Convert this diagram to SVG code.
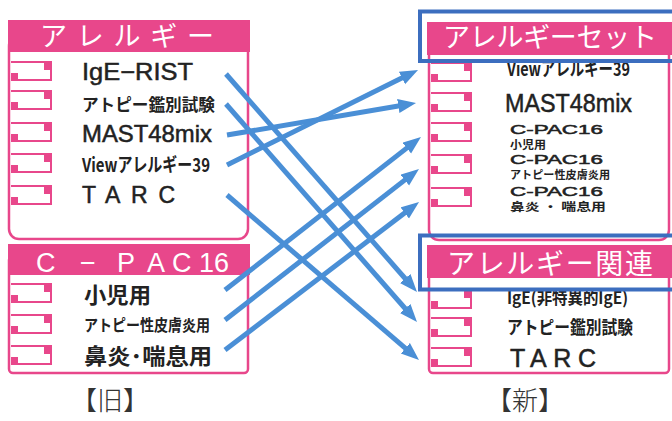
<svg xmlns="http://www.w3.org/2000/svg" width="672" height="421" viewBox="0 0 672 421">
<style>
.pk{fill:#e8478b}
.frame{fill:#fff;stroke:#e8478b;stroke-width:2.5}
.hd{fill:#fff;font-family:"Noto Sans CJK JP","Noto Sans",sans-serif;font-weight:400}
.hdl{fill:#fff;font-family:"Liberation Sans",Arial,sans-serif}
.jp{fill:#222;font-family:"Noto Sans CJK JP",sans-serif;font-weight:700}
.en{fill:#222;font-family:"Liberation Sans",Arial,sans-serif;stroke:#222;stroke-width:0.5}
.cap{fill:#333;font-family:"Noto Sans CJK JP",sans-serif;font-weight:300}
.ic line{stroke:#e8478b;stroke-width:2}
.ic rect{fill:#e8478b}
.bx{fill:none;stroke:#3c6ebf;stroke-width:4}
.ar{stroke:#4a8fd6;stroke-width:5;fill:none}
</style>
<defs>
<g id="icon" class="ic">
<line x1="0" y1="0" x2="41" y2="0"/>
<line x1="40" y1="0" x2="40" y2="18"/>
<line x1="0" y1="18" x2="41" y2="18"/>
<rect x="33" y="0" width="8" height="8"/>
<rect x="0" y="11" width="7" height="8"/>
</g>
<marker id="ah" markerUnits="userSpaceOnUse" markerWidth="20" markerHeight="16" refX="6" refY="7" orient="auto">
<path d="M0,0 L18,7 L0,14 z" fill="#4a8fd6"/>
</marker>
</defs>
<rect width="672" height="421" fill="#fff"/>

<g id="old-allergy">
<rect class="frame" x="9" y="36" width="239" height="203" rx="10"/>
<rect class="pk" x="8" y="20" width="242" height="32"/>
<text class="hd" x="40" y="46" font-size="27" textLength="174" lengthAdjust="spacing">アレルギー</text>
<use href="#icon" x="11" y="62"/>
<use href="#icon" x="11" y="91"/>
<use href="#icon" x="11" y="123"/>
<use href="#icon" x="11" y="154"/>
<use href="#icon" x="11" y="186"/>
<text class="en" x="82" y="80" font-size="24" textLength="111" lengthAdjust="spacingAndGlyphs">IgE−RIST</text>
<text class="jp" x="82" y="111" font-size="17" textLength="133" lengthAdjust="spacingAndGlyphs">アトピー鑑別試験</text>
<text class="en" x="82" y="142" font-size="24" textLength="130" lengthAdjust="spacingAndGlyphs">MAST48mix</text>
<text class="jp" x="82" y="172" font-size="19" textLength="128" lengthAdjust="spacingAndGlyphs">Viewアレルギー39</text>
<text class="en" x="82" y="203" font-size="23" textLength="93" lengthAdjust="spacing">TARC</text>
</g>

<g id="old-cpac16">
<rect class="frame" x="9" y="256" width="239" height="117" rx="4"/>
<rect class="pk" x="8" y="244" width="242" height="31"/>
<text class="hdl" y="272" font-size="27"><tspan x="36">C</tspan><tspan x="80">−</tspan><tspan x="117">P</tspan><tspan x="147">A</tspan><tspan x="172">C</tspan><tspan x="199">16</tspan></text>
<use href="#icon" x="11" y="284"/>
<use href="#icon" x="11" y="315"/>
<use href="#icon" x="11" y="346"/>
<text class="jp" x="84" y="303" font-size="22" textLength="67" lengthAdjust="spacingAndGlyphs">小児用</text>
<text class="jp" x="84" y="331" font-size="16" textLength="126" lengthAdjust="spacingAndGlyphs">アトピー性皮膚炎用</text>
<text class="jp" x="84" y="364" font-size="22" textLength="128" lengthAdjust="spacingAndGlyphs">鼻炎･喘息用</text>
</g>

<text id="label-old" class="cap" x="110" y="410" font-size="26" text-anchor="middle">【旧】</text>

<g id="new-allergy-set">
<rect class="frame" x="429" y="36" width="240" height="204" rx="10"/>
<use href="#icon" x="431" y="63"/>
<use href="#icon" x="431" y="93"/>
<use href="#icon" x="431" y="123"/>
<use href="#icon" x="431" y="155"/>
<use href="#icon" x="431" y="188"/>
<text class="jp" x="507" y="76" font-size="19" textLength="123" lengthAdjust="spacingAndGlyphs">Viewアレルギー39</text>
<text class="en" x="505" y="112" font-size="26" textLength="127" lengthAdjust="spacingAndGlyphs">MAST48mix</text>
<text class="en" x="510" y="134" font-size="13" textLength="93" lengthAdjust="spacingAndGlyphs">C-PAC16</text>
<text class="jp" x="510" y="149" font-size="11" textLength="36" lengthAdjust="spacingAndGlyphs">小児用</text>
<text class="en" x="510" y="164" font-size="13" textLength="93" lengthAdjust="spacingAndGlyphs">C-PAC16</text>
<text class="jp" x="510" y="179" font-size="11" textLength="100" lengthAdjust="spacingAndGlyphs">アトピー性皮膚炎用</text>
<text class="en" x="510" y="196" font-size="13" textLength="93" lengthAdjust="spacingAndGlyphs">C-PAC16</text>
<text class="jp" x="510" y="211" font-size="11" textLength="96" lengthAdjust="spacingAndGlyphs">鼻炎 ・ 喘息用</text>
<rect class="pk" x="427" y="22" width="245" height="33"/>
<text class="hd" x="443" y="47" font-size="27" textLength="214" lengthAdjust="spacing">アレルギーセット</text>
<rect class="bx" x="420" y="11.5" width="260" height="49.5"/>
</g>

<g id="new-allergy-related">
<rect class="frame" x="429" y="262" width="240" height="111" rx="4"/>
<use href="#icon" x="431" y="290"/>
<use href="#icon" x="431" y="318"/>
<use href="#icon" x="431" y="348"/>
<text class="jp" x="507" y="304" font-size="17" textLength="121" lengthAdjust="spacingAndGlyphs">IgE(非特異的IgE)</text>
<text class="jp" x="507" y="334" font-size="18" textLength="126" lengthAdjust="spacingAndGlyphs">アトピー鑑別試験</text>
<text class="en" x="510" y="367" font-size="25" textLength="86" lengthAdjust="spacing">TARC</text>
<rect class="pk" x="427" y="245" width="245" height="33"/>
<text class="hd" x="447" y="274" font-size="28" textLength="206" lengthAdjust="spacing">アレルギー関連</text>
<rect class="bx" x="420" y="235.5" width="260" height="54"/>
</g>

<text id="label-new" class="cap" x="525" y="410" font-size="26" text-anchor="middle">【新】</text>

<g id="connectors">
<line class="ar" marker-end="url(#ah)" x1="226" y1="74" x2="409.1" y2="283"/>
<line class="ar" marker-end="url(#ah)" x1="226" y1="104" x2="409.1" y2="313"/>
<line class="ar" marker-end="url(#ah)" x1="227" y1="135" x2="404.2" y2="105"/>
<line class="ar" marker-end="url(#ah)" x1="227" y1="165" x2="407.3" y2="75.3"/>
<line class="ar" marker-end="url(#ah)" x1="227" y1="195" x2="409.9" y2="352.2"/>
<line class="ar" marker-end="url(#ah)" x1="225" y1="290" x2="411.5" y2="144.4"/>
<line class="ar" marker-end="url(#ah)" x1="225" y1="320" x2="409.5" y2="176.4"/>
<line class="ar" marker-end="url(#ah)" x1="225" y1="350" x2="409.5" y2="209.3"/>
</g>
</svg>
